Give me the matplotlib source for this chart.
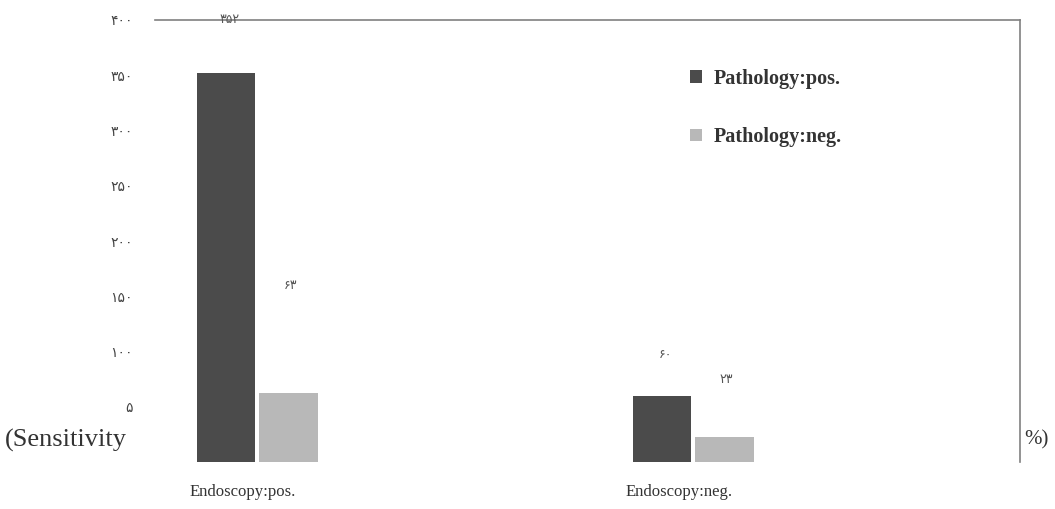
import matplotlib.pyplot as plt
import numpy as np

categories = ["Endoscopy:pos.", "Endoscopy:neg."]
series = ["Pathology:pos.", "Pathology:neg."]
path_pos = [352, 60]
path_neg = [63, 23]
value_labels_pos = ["۳۵۲", "۶۰"]
value_labels_neg = ["۶۳", "۲۳"]
yticks = [0, 50, 100, 150, 200, 250, 300, 350, 400]
ytick_labels = ["", "۵", "۱۰۰", "۱۵۰", "۲۰۰", "۲۵۰", "۳۰۰", "۳۵۰", "۴۰۰"]

dark = '#4b4b4b'
light = '#b8b8b8'
serif = ['Liberation Serif', 'DejaVu Serif']

fig = plt.figure(figsize=(10.55, 5.09), dpi=100)
ax = fig.add_axes([0.147, 0.092, 0.82, 0.869])

x = np.arange(len(categories))
w = 0.135
b1 = ax.bar(x - w / 2 - 0.004, path_pos, width=w, color=dark, label=series[0])
b2 = ax.bar(x + w / 2 + 0.004, path_neg, width=w, color=light, label=series[1])

# value labels sit oddly high in the original scan
offs_pos = [53, 41]
offs_neg = [107, 57]
for i in range(len(categories)):
    ax.annotate(value_labels_pos[i], (x[i] - w / 2, path_pos[i]), xytext=(2, offs_pos[i]),
                textcoords='offset pixels', ha='center', va='center', fontsize=9,
                color='#555555', family=['DejaVu Sans'])
    ax.annotate(value_labels_neg[i], (x[i] + w / 2, path_neg[i]), xytext=(4, offs_neg[i]),
                textcoords='offset pixels', ha='center', va='center', fontsize=9,
                color='#555555', family=['DejaVu Sans'])

ax.set_xlim(-0.234, 1.75)
ax.set_ylim(0, 400)
ax.set_yticks(yticks)
ax.set_yticklabels(ytick_labels, family=['DejaVu Sans'], fontsize=10, color='#444444')
ax.tick_params(axis='y', length=0, pad=16)
ax.set_xticks([])

for s in ['left', 'bottom']:
    ax.spines[s].set_visible(False)
for s in ['top', 'right']:
    ax.spines[s].set_color('#808080')
    ax.spines[s].set_linewidth(1.2)

for i, c in enumerate(categories):
    ax.annotate(c, (x[i], 0), xytext=(-14, -30), textcoords='offset pixels',
                ha='center', va='center', fontsize=12, color='#333333', family=serif)

leg = ax.legend(loc='upper left', bbox_to_anchor=(0.597, 0.93), frameon=False,
                handlelength=0.6, handleheight=0.6, handletextpad=0.6, labelspacing=1.9,
                prop={'family': serif, 'weight': 'bold', 'size': 14.5})
for t in leg.get_texts():
    t.set_color('#333333')

fig.text(0.005, 0.135, "(Sensitivity", fontsize=19, family=serif, color='#333333',
         ha='left', va='center')
fig.text(0.971, 0.135, "%)", fontsize=15, family=serif, color='#333333',
         ha='left', va='center')

fig.savefig('out.png', dpi=100)
